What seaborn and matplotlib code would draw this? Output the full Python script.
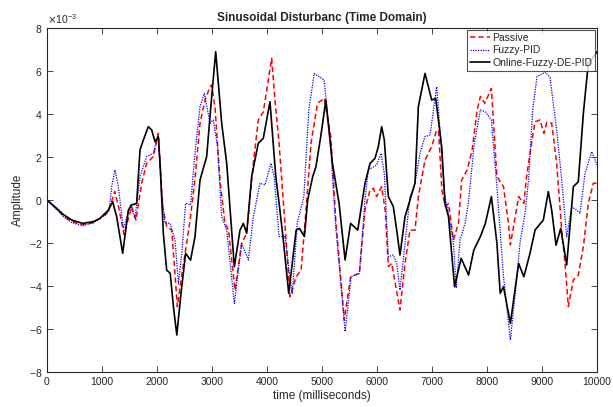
import matplotlib
matplotlib.use("Agg")
import matplotlib.pyplot as plt
import matplotlib.ticker as mticker
import numpy as np
import pandas as pd
import seaborn as sns

# Response of each controller (amplitude in units of 1e-3)
passive_t = [0, 150, 300, 450, 650, 850, 1080, 1160, 1230, 1300, 1400, 1540, 1618, 1721, 1812,
             1933, 2024, 2100, 2176, 2267, 2320, 2370, 2450, 2520, 2610, 2691, 2782, 2873, 2964,
             2994, 3055, 3145, 3236, 3300, 3418, 3539, 3630, 3752, 3842, 3933, 4000, 4085, 4150,
             4220, 4290, 4420, 4530, 4620, 4710, 4800, 4920, 5040, 5160, 5250, 5405, 5520, 5680,
             5782, 5873, 5933, 5994, 6085, 6150, 6206, 6267, 6418, 6509, 6600, 6691, 6752, 6873,
             6994, 7085, 7120, 7180, 7240, 7300, 7390, 7480, 7540, 7640, 7730, 7820, 7880, 7960,
             8080, 8180, 8300, 8390, 8425, 8575, 8670, 8720, 8782, 8873, 8964, 9036, 9085, 9176,
             9267, 9358, 9418, 9479, 9570, 9660, 9752, 9842, 9933, 10000]
passive_v = [0, -0.35, -0.72, -1.0, -1.15, -1.05, -0.65, -0.2, 0.4, -0.3, -1.6, -0.31, -0.93, 0.78, 1.71,
             2.02, 3.1, -0.3, -1.24, -1.4, -3.2, -4.96, -3.5, -2.33, -0.78, 1.0, 3.57, 4.65, 5.27,
             5.35, 4.3, 0.93, -1.09, -1.4, -4.19, -2.02, -1.55, 1.71, 3.72, 4.1, 5.2, 6.59, 4.5,
             2.64, 0.16, -4.5, -3.57, -3.26, -0.47, 2.64, 4.5, 4.73, 2.95, -0.93, -5.58, -3.57, -3.41,
             -0.47, 0.47, 0.54, 0.16, 0.62, -0.5, -3.1, -2.95, -5.12, -2.95, -1.4, -1.4, 0.16, 1.86,
             2.48, 3.26, 3.2, 0.47, -0.3, -0.16, -1.86, -1.09, 0.93, 1.4, 2.33, 4.19, 4.81, 4.5,
             5.19, 1.09, 0.62, -1.09, -2.09, 0.16, -0.16, 1.09, 2.17, 3.64, 3.72, 3.1, 3.6, 3.57,
             1.7, -1.4, -2.95, -4.96, -3.72, -3.5, -2.17, -0.16, 0.78, 0.78]

fuzzy_t = [0, 150, 300, 450, 650, 850, 1080, 1130, 1176, 1236, 1297, 1388, 1521, 1600, 1691,
           1812, 1933, 1994, 2024, 2080, 2145, 2236, 2327, 2390, 2450, 2520, 2610, 2691, 2782,
           2861, 2964, 3024, 3100, 3176, 3267, 3406, 3539, 3661, 3752, 3873, 3964, 4073, 4130,
           4220, 4330, 4400, 4460, 4550, 4670, 4760, 4860, 5040, 5160, 5250, 5420, 5530, 5680,
           5782, 5842, 5994, 6073, 6133, 6206, 6297, 6358, 6418, 6509, 6600, 6691, 6782, 6873,
           6964, 7085, 7145, 7236, 7300, 7390, 7440, 7510, 7600, 7660, 7770, 7880, 7970, 8080,
           8180, 8300, 8425, 8545, 8600, 8700, 8760, 8830, 8910, 9060, 9145, 9267, 9358, 9449,
           9540, 9630, 9691, 9782, 9903, 10000]
fuzzy_v = [0, -0.38, -0.78, -1.05, -1.2, -1.05, -0.65, -0.5, 0.62, 1.4, 0.62, -1.32, -0.23, -0.85, 1.09,
           2.02, 2.17, 2.79, 3.0, 0.5, -1.08, -1.08, -1.86, -3.9, -2.5, -0.15, -0.23, 2.2, 4.34,
           4.96, 3.57, 3.72, 2.5, -0.78, -1.4, -4.81, -2.02, -2.79, -0.78, 0.78, 0.7, 1.71, 1.08,
           -1.7, -1.7, -3.26, -4.34, -1.09, 0.16, 4.19, 5.89, 5.58, 2.33, -1.24, -6.12, -3.57, -3.41,
           0.0, 1.4, 1.63, 2.17, 1.24, -2.64, -2.56, -2.95, -4.19, -2.02, 0.16, 0.78, 2.17, 2.95,
           3.02, 5.27, 3.26, 0.16, -0.62, -2.0, -4.1, -1.86, -1.09, -0.16, 2.64, 4.19, 4.1, 3.72,
           0.62, -3.57, -6.51, -3.57, -2.0, -0.47, 1.09, 4.19, 5.74, 5.95, 5.7, 3.26, 0.93, -1.7,
           -0.31, -0.47, -0.62, 1.24, 2.25, 1.63]

online_t = [0, 150, 300, 450, 650, 850, 964, 1115, 1194, 1267, 1376, 1479, 1540, 1630, 1691,
            1752, 1842, 1903, 1964, 2024, 2060, 2115, 2176, 2240, 2300, 2360, 2430, 2520, 2610,
            2691, 2782, 2903, 2994, 3067, 3176, 3267, 3406, 3509, 3570, 3630, 3721, 3842, 3933,
            4054, 4160, 4220, 4290, 4395, 4530, 4590, 4680, 4740, 4830, 4890, 4980, 5070, 5190,
            5310, 5420, 5520, 5650, 5782, 5873, 5964, 6024, 6085, 6133, 6206, 6297, 6358, 6418,
            6509, 6600, 6691, 6752, 6873, 6994, 7067, 7176, 7236, 7300, 7410, 7530, 7665, 7760,
            7880, 7970, 8080, 8180, 8240, 8300, 8425, 8575, 8670, 8782, 8873, 9024, 9115, 9176,
            9255, 9340, 9449, 9570, 9660, 9752, 9842, 9920, 10000]
online_v = [0, -0.33, -0.68, -0.93, -1.09, -1.0, -0.85, -0.47, -0.08, -0.78, -2.48, -0.47, -0.23, -0.16, 2.33,
            2.79, 3.41, 3.26, 2.71, 2.95, 1.5, -1.55, -3.26, -3.41, -5.0, -6.28, -4.5, -2.48, -2.8,
            -1.7, 0.93, 2.02, 4.8, 6.9, 3.57, 1.71, -3.1, -1.4, -1.09, -1.55, 1.09, 2.64, 2.87,
            4.57, 1.08, -0.15, -1.7, -4.34, -1.4, -1.32, -1.7, 0.0, 1.08, 1.55, 3.0, 4.65, 1.7,
            -0.15, -2.79, -1.09, -1.4, 0.78, 1.7, 1.94, 2.48, 3.41, 2.79, 0.16, -0.31, -1.4, -2.56,
            -0.78, 0.0, 0.78, 4.34, 5.89, 4.65, 4.73, 2.48, -0.16, -0.78, -4.03, -2.71, -3.49, -2.33,
            -1.7, -1.09, 0.16, -2.0, -4.34, -4.03, -5.74, -2.95, -3.57, -2.48, -1.4, -0.93, 0.39, -0.47,
            -2.1, -1.32, -3.02, 0.62, 0.85, 4.03, 6.36, 6.6, 6.9]

series_names = ["Passive", "Fuzzy-PID", "Online-Fuzzy-DE-PID"]
x_ticks = list(range(0, 10001, 1000))
y_ticks = [-8, -6, -4, -2, 0, 2, 4, 6, 8]

sns.set_style("ticks")
plt.rcParams["font.family"] = ["Liberation Sans", "DejaVu Sans"]

frames = []
for name, t, v in zip(series_names, [passive_t, fuzzy_t, online_t], [passive_v, fuzzy_v, online_v]):
    frames.append(pd.DataFrame({"time": t, "amp": np.array(v) * 1e-3, "series": name}))
df = pd.concat(frames, ignore_index=True)

fig = plt.figure(figsize=(6.13, 4.07), dpi=100)
ax = fig.add_axes([47 / 613, 1 - 372 / 407, 550 / 613, 344 / 407])

styles = {
    "Passive": dict(color="#ff0000", linestyle=(0, (3.5, 2)), linewidth=1.1),
    "Fuzzy-PID": dict(color="#0000ff", linestyle=(0, (1, 1)), linewidth=0.9),
    "Online-Fuzzy-DE-PID": dict(color="#000000", linestyle="-", linewidth=1.2),
}
for name in series_names:
    sns.lineplot(data=df[df["series"] == name], x="time", y="amp", ax=ax,
                 label=name, sort=False, estimator=None, **styles[name])

ax.set_xlim(0, 10000)
ax.set_ylim(-8e-3, 8e-3)
ax.set_xticks(x_ticks)
ax.set_yticks([y * 1e-3 for y in y_ticks])
fmt = mticker.ScalarFormatter(useMathText=True)
fmt.set_powerlimits((-2, 2))
ax.yaxis.set_major_formatter(fmt)
ax.yaxis.get_offset_text().set_fontsize(7.5)
ax.yaxis.get_offset_text().set_color("#404040")

ax.tick_params(direction="in", top=True, right=True, length=4, width=0.6,
               labelsize=7.5, labelcolor="#262626")
for s in ax.spines.values():
    s.set_linewidth(0.8)
    s.set_color("#262626")

ax.set_title("Sinusoidal Disturbanc (Time Domain)", fontsize=8.5, fontweight="bold", pad=5)
ax.set_xlabel("time (milliseconds)", fontsize=8.5, labelpad=2, color="#262626")
ax.set_ylabel("Amplitude", fontsize=8.5, labelpad=3, color="#262626")

leg = ax.legend(loc="upper right", fontsize=7.5, frameon=True, fancybox=False,
                borderaxespad=0.15, handlelength=1.9, handletextpad=0.2,
                labelspacing=0.25, borderpad=0.3)
leg.get_frame().set_edgecolor("#262626")
leg.get_frame().set_linewidth(0.8)

fig.savefig("out.png", dpi=100)
